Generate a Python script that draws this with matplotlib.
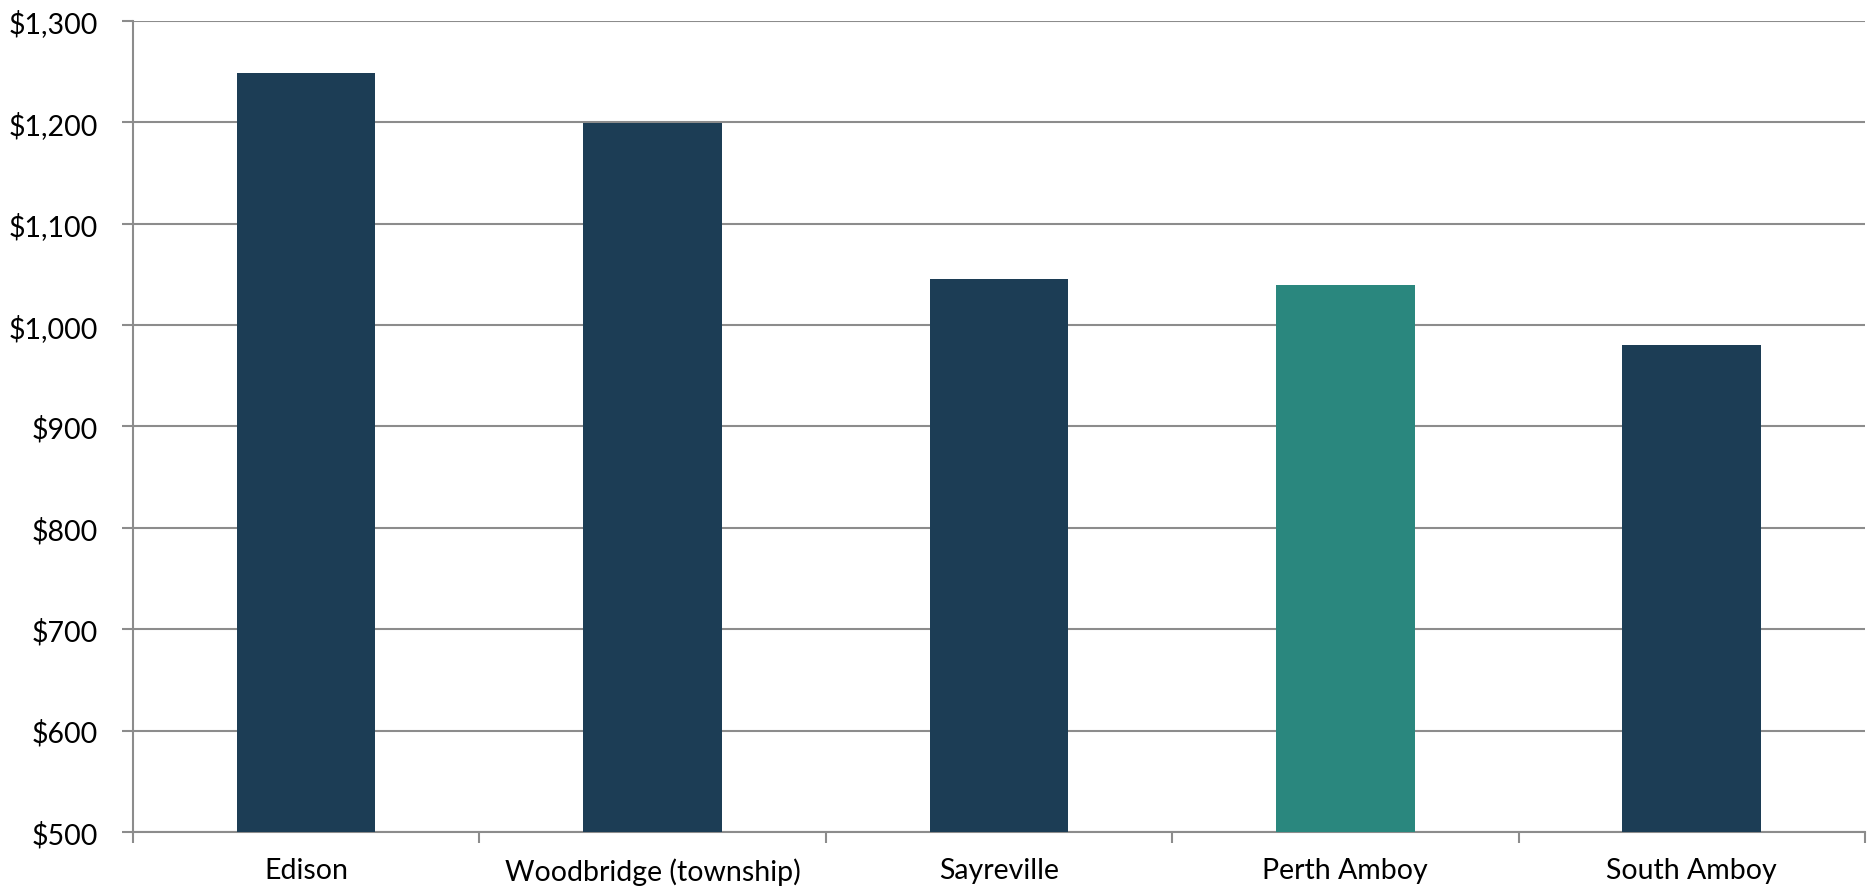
import numpy as np
import matplotlib.pyplot as plt
from matplotlib.ticker import FuncFormatter

places = ['Edison', 'Woodbridge (township)', 'Sayreville', 'Perth Amboy', 'South Amboy']
rent = [1249, 1199, 1045, 1040, 980]
colors = ['#1C3D55', '#1C3D55', '#1C3D55', '#2A877E', '#1C3D55']

plt.rcParams['font.family'] = ['Lato', 'DejaVu Sans']

fig = plt.figure(figsize=(18.73, 8.87), dpi=100)
ax = fig.add_axes([0.071, 0.0609, 0.9247, 0.9143])

x = np.arange(len(places))
ax.bar(x, rent, width=0.4, color=colors, zorder=3)

ax.set_ylim(500, 1300)
ax.set_xlim(-0.5, len(places) - 0.5)
ax.set_yticks(np.arange(500, 1301, 100))
ax.yaxis.set_major_formatter(FuncFormatter(lambda v, p: '${:,.0f}'.format(v)))
ax.grid(axis='y', color='#8C8C8C', linewidth=1.5, zorder=0)

ax.set_xticks(x)
ax.set_xticklabels(places)
ax.set_xticks(np.arange(-0.5, len(places), 1), minor=True)
ax.tick_params(axis='x', which='major', length=0, pad=18, labelsize=20.5)
ax.tick_params(axis='x', which='minor', length=8, width=1.5, color='#8C8C8C')
ax.tick_params(axis='y', length=8, width=1.5, color='#8C8C8C', labelsize=20.5, pad=17)

for s in ['top', 'right']:
    ax.spines[s].set_visible(False)
for s in ['left', 'bottom']:
    ax.spines[s].set_color('#8C8C8C')
    ax.spines[s].set_linewidth(1.5)

fig.savefig('out.png', dpi=100)
